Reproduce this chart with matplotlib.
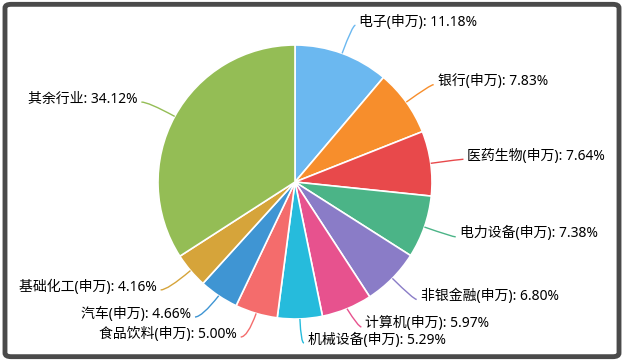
import numpy as np
import matplotlib.pyplot as plt
from matplotlib.path import Path
from matplotlib.patches import PathPatch, FancyBboxPatch

plt.rcParams['font.family'] = ['Noto Sans', 'Noto Sans CJK SC', 'DejaVu Sans']

names = ['电子(申万)', '银行(申万)', '医药生物(申万)', '电力设备(申万)', '非银金融(申万)',
         '计算机(申万)', '机械设备(申万)', '食品饮料(申万)', '汽车(申万)', '基础化工(申万)', '其余行业']
shares = [11.18, 7.83, 7.64, 7.38, 6.80, 5.97, 5.29, 5.00, 4.66, 4.16, 34.12]
colors = ['#6bb8f0', '#f78e2c', '#e8494b', '#4bb487', '#8a7cc7', '#e7528e',
          '#26bbdc', '#f46c6c', '#3f95d3', '#d6a43a', '#94bd55']

W, H = 624, 361
fig = plt.figure(figsize=(W / 100, H / 100), dpi=100)
ax = fig.add_axes([0, 0, 1, 1])

cx, cy, R = 295, H - 182, 137
wedges, _ = ax.pie(shares, colors=colors, startangle=90, counterclock=False,
                   center=(cx, cy), radius=R,
                   wedgeprops=dict(edgecolor='white', linewidth=1.2))
ax.set_xlim(0, W)
ax.set_ylim(0, H)
ax.set_aspect('equal')
ax.axis('off')

# label anchors; bottom ones get pushed up so they don't overlap
L1 = 30
items = []
for w, n, s, c in zip(wedges, names, shares, colors):
    a = np.deg2rad((w.theta1 + w.theta2) / 2)
    p0 = (cx + R * np.cos(a), cy + R * np.sin(a))
    p1 = [cx + (R + L1) * np.cos(a), cy + (R + L1) * np.sin(a)]
    side = 1 if np.cos(a) >= -0.05 else -1
    items.append(dict(p0=p0, p1=p1, side=side, text=f'{n}: {s:.2f}%', color=c))

for side, ymin, gap in ((1, 18, 16), (-1, 24, 20)):
    grp = sorted([it for it in items if it['side'] == side], key=lambda it: it['p1'][1])
    prev = ymin - gap
    for it in grp:
        if it['p1'][1] < prev + gap:
            it['p1'][1] = prev + gap
        prev = it['p1'][1]

for it in items:
    p0, p1, side = it['p0'], it['p1'], it['side']
    p2 = (p1[0] + (3 if side > 0 else -7), p1[1])
    path = Path([p0, p1, p2], [Path.MOVETO, Path.CURVE3, Path.CURVE3])
    ax.add_patch(PathPatch(path, fill=False, edgecolor=it['color'], linewidth=1))
    ax.text(p2[0] + side * 4, p2[1] + 3, it['text'], fontsize=10, fontweight='medium',
            ha='left' if side > 0 else 'right', va='center', color='#000000')

frame = FancyBboxPatch((0.008, 0.012), 0.984, 0.976, boxstyle='round,pad=0,rounding_size=0.01',
                       transform=fig.transFigure, fill=False, edgecolor='#4a4a4a', linewidth=3.5)
fig.patches.append(frame)

fig.savefig('out.png', dpi=100)
